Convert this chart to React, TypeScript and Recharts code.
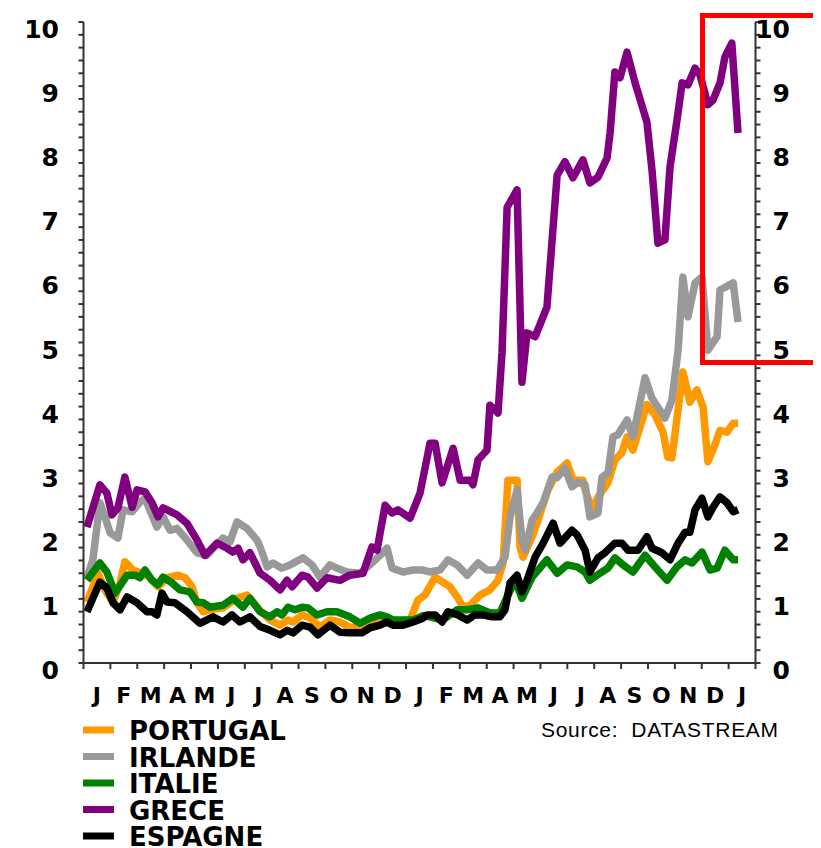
import React from "react";
import { LineChart, Line, XAxis, YAxis } from "recharts";

// months shown under the axis (Jan year 1 .. Jan year 3)
const MONTHS = ["J", "F", "M", "A", "M", "J", "J", "A", "S", "O", "N", "D", "J", "F", "M", "A", "M", "J", "J", "A", "S", "O", "N", "D", "J"];
const MONTH_TICKS = Array.from({ length: 26 }, (_, i) => i);
const Y_TICKS = Array.from({ length: 51 }, (_, i) => i / 5);

// [month position, spread in %]
const PORTUGAL: [number, number][] = [
  [0.13, 0.95], [0.54, 1.4], [0.8, 1.14], [1.1, 0.94], [1.36, 1.25], [1.54, 1.58], [1.84, 1.45], [2.18, 1.4],
  [2.47, 1.33], [2.77, 1.19], [3.11, 1.33], [3.52, 1.37], [3.78, 1.33], [4.04, 1.19], [4.22, 0.94], [4.45, 0.8],
  [4.71, 0.83], [5.19, 0.86], [5.71, 1.01], [6.08, 1.06], [6.57, 0.82], [6.94, 0.67], [7.31, 0.59], [7.61, 0.67],
  [7.8, 0.64], [8.13, 0.75], [8.43, 0.7], [8.8, 0.56], [9.17, 0.67], [9.54, 0.64], [9.91, 0.56], [10.36, 0.55],
  [10.66, 0.62], [11.1, 0.67], [11.4, 0.64], [11.77, 0.64], [12.15, 0.67], [12.44, 0.98], [12.7, 1.06], [13.08, 1.34],
  [13.26, 1.29], [13.63, 1.19], [13.9, 1.03], [14.12, 0.87], [14.38, 0.9], [14.75, 1.06], [15.12, 1.14], [15.42, 1.29],
  [15.61, 1.56], [15.79, 2.85], [16.13, 2.85], [16.24, 1.81], [16.35, 1.65], [16.69, 1.97], [16.91, 2.23], [17.28, 2.7],
  [17.62, 2.98], [17.99, 3.12], [18.21, 2.85], [18.58, 2.85], [18.66, 2.7], [18.92, 2.39], [19.14, 2.59], [19.51, 2.81],
  [19.77, 3.17], [20.03, 3.28], [20.22, 3.53], [20.44, 3.32], [20.96, 4.03], [21.26, 3.87], [21.56, 3.6], [21.74, 3.21],
  [21.89, 3.2], [22.3, 4.54], [22.56, 4.07], [22.82, 4.26], [23.05, 3.99], [23.23, 3.14], [23.49, 3.4], [23.68, 3.63],
  [23.94, 3.6], [24.17, 3.74], [24.35, 3.74],
];

const IRLANDE: [number, number][] = [
  [0.13, 1.34], [0.35, 1.61], [0.61, 2.5], [0.8, 2.28], [0.99, 2.03], [1.28, 1.95], [1.47, 2.39], [1.81, 2.36],
  [2.1, 2.51], [2.29, 2.57], [2.73, 2.12], [2.96, 2.28], [3.22, 2.07], [3.48, 2.1], [3.85, 1.92], [4.22, 1.72],
  [4.59, 1.68], [5.19, 1.95], [5.45, 1.89], [5.71, 2.2], [6.08, 2.1], [6.45, 1.92], [6.57, 1.81], [6.83, 1.5],
  [7.05, 1.56], [7.38, 1.48], [7.68, 1.53], [8.17, 1.64], [8.5, 1.53], [8.8, 1.34], [9.17, 1.53], [9.43, 1.48],
  [9.8, 1.42], [10.29, 1.4], [10.73, 1.56], [11.03, 1.68], [11.29, 1.79], [11.48, 1.48], [11.89, 1.42], [12.26, 1.45],
  [12.63, 1.45], [12.89, 1.42], [13.26, 1.45], [13.56, 1.61], [13.9, 1.53], [14.27, 1.37], [14.68, 1.56], [15.01, 1.45],
  [15.39, 1.45], [15.68, 1.65], [15.87, 2.28], [16.13, 2.7], [16.31, 1.92], [16.43, 1.76], [16.69, 2.23], [16.87, 2.34],
  [17.1, 2.5], [17.43, 2.9], [17.62, 2.89], [17.91, 3.04], [18.17, 2.75], [18.4, 2.82], [18.66, 2.78], [18.84, 2.28],
  [19.14, 2.34], [19.29, 2.9], [19.51, 2.96], [19.7, 3.53], [19.88, 3.56], [20.22, 3.79], [20.44, 3.53], [20.89, 4.45],
  [21.15, 4.13], [21.37, 3.99], [21.63, 3.82], [21.89, 4.1], [22.12, 4.88], [22.3, 6.02], [22.49, 5.4], [22.75, 5.93],
  [23.01, 6.02], [23.23, 4.88], [23.57, 5.09], [23.68, 5.82], [24.17, 5.93], [24.35, 5.32],
];

const ITALIE: [number, number][] = [
  [0.13, 1.29], [0.61, 1.56], [0.87, 1.42], [1.17, 1.09], [1.43, 1.25], [1.62, 1.37], [1.92, 1.37], [2.1, 1.33],
  [2.29, 1.45], [2.55, 1.29], [2.77, 1.22], [2.96, 1.34], [3.29, 1.25], [3.59, 1.14], [3.96, 1.11], [4.22, 0.95],
  [4.45, 0.94], [4.71, 0.87], [5.19, 0.9], [5.56, 1.01], [5.93, 0.87], [6.19, 1.01], [6.57, 0.8], [6.94, 0.72],
  [7.2, 0.8], [7.38, 0.75], [7.61, 0.87], [7.87, 0.83], [8.13, 0.87], [8.35, 0.86], [8.69, 0.75], [9.06, 0.8],
  [9.43, 0.8], [9.91, 0.72], [10.29, 0.62], [10.66, 0.7], [11.03, 0.75], [11.29, 0.72], [11.51, 0.67], [11.89, 0.67],
  [12.26, 0.67], [12.63, 0.74], [12.89, 0.72], [13.37, 0.67], [13.9, 0.83], [14.27, 0.83], [14.68, 0.86], [15.12, 0.78],
  [15.49, 0.78], [15.76, 1.03], [16.06, 1.29], [16.31, 1.01], [16.69, 1.34], [17.24, 1.61], [17.62, 1.4], [17.99, 1.53],
  [18.36, 1.5], [18.66, 1.42], [18.84, 1.29], [19.21, 1.4], [19.51, 1.48], [19.77, 1.64], [20.07, 1.53], [20.44, 1.42],
  [20.89, 1.68], [21.26, 1.5], [21.71, 1.29], [22.08, 1.5], [22.38, 1.61], [22.64, 1.56], [23.01, 1.73], [23.31, 1.45],
  [23.57, 1.48], [23.86, 1.76], [24.17, 1.61], [24.35, 1.61],
];

const GRECE: [number, number][] = [
  [0.13, 2.12], [0.61, 2.78], [0.87, 2.65], [1.06, 2.31], [1.28, 2.42], [1.54, 2.9], [1.81, 2.43], [1.99, 2.7],
  [2.29, 2.67], [2.55, 2.5], [2.77, 2.28], [2.96, 2.42], [3.48, 2.31], [3.85, 2.18], [4.22, 1.92], [4.52, 1.68],
  [4.97, 1.87], [5.34, 1.79], [5.56, 1.73], [5.75, 1.79], [5.93, 1.61], [6.19, 1.72], [6.57, 1.4], [6.94, 1.29],
  [7.31, 1.14], [7.57, 1.29], [7.76, 1.19], [8.13, 1.37], [8.35, 1.34], [8.69, 1.17], [9.06, 1.33], [9.54, 1.29],
  [9.91, 1.37], [10.4, 1.4], [10.73, 1.81], [10.92, 1.76], [11.22, 2.46], [11.48, 2.34], [11.7, 2.39], [12.15, 2.26],
  [12.52, 2.65], [12.89, 3.43], [13.08, 3.43], [13.34, 2.81], [13.75, 3.35], [14.01, 2.85], [14.38, 2.85], [14.49, 2.78],
  [14.68, 3.17], [15.01, 3.32], [15.12, 4.02], [15.42, 3.9], [15.57, 4.84], [15.76, 7.11], [16.13, 7.38], [16.31, 4.38],
  [16.5, 5.15], [16.8, 5.09], [17.24, 5.55], [17.62, 7.61], [17.91, 7.82], [18.21, 7.57], [18.58, 7.85], [18.84, 7.49],
  [19.14, 7.58], [19.48, 7.88], [19.59, 8.27], [19.77, 9.22], [19.96, 9.13], [20.22, 9.53], [20.52, 9.05], [20.96, 8.44],
  [21.15, 7.69], [21.37, 6.55], [21.63, 6.6], [21.82, 7.74], [22.08, 8.47], [22.27, 9.05], [22.49, 9.02], [22.75, 9.28],
  [22.94, 9.17], [23.23, 8.71], [23.42, 8.78], [23.68, 9.05], [23.86, 9.45], [24.12, 9.67], [24.35, 8.27],
];

const ESPAGNE: [number, number][] = [
  [0.13, 0.8], [0.43, 1.09], [0.61, 1.26], [0.87, 1.17], [1.1, 0.94], [1.36, 0.83], [1.62, 1.03], [1.99, 0.94],
  [2.36, 0.8], [2.55, 0.8], [2.73, 0.75], [2.92, 1.09], [3.11, 0.95], [3.4, 0.94], [3.85, 0.8], [4.33, 0.62],
  [4.82, 0.72], [5.19, 0.64], [5.52, 0.75], [5.82, 0.64], [6.19, 0.72], [6.57, 0.57], [6.94, 0.51], [7.31, 0.44],
  [7.57, 0.51], [7.8, 0.47], [8.13, 0.59], [8.43, 0.56], [8.72, 0.44], [9.17, 0.59], [9.54, 0.48], [9.91, 0.47],
  [10.36, 0.47], [10.66, 0.55], [11.03, 0.59], [11.29, 0.64], [11.51, 0.59], [11.89, 0.59], [12.26, 0.64], [12.63, 0.7],
  [12.78, 0.75], [13.08, 0.75], [13.34, 0.64], [13.56, 0.8], [13.93, 0.75], [14.27, 0.67], [14.56, 0.75], [14.86, 0.75],
  [15.19, 0.72], [15.49, 0.72], [15.68, 0.83], [15.87, 1.25], [16.13, 1.37], [16.31, 1.11], [16.5, 1.29], [16.8, 1.65],
  [17.1, 1.87], [17.47, 2.18], [17.73, 1.87], [18.17, 2.07], [18.36, 2.0], [18.66, 1.76], [18.84, 1.42], [19.14, 1.64],
  [19.4, 1.72], [19.77, 1.87], [20.03, 1.87], [20.26, 1.76], [20.63, 1.76], [20.96, 1.97], [21.15, 1.79], [21.52, 1.72],
  [21.82, 1.61], [22.12, 1.87], [22.38, 2.04], [22.56, 2.04], [22.75, 2.39], [23.01, 2.57], [23.23, 2.28], [23.42, 2.43],
  [23.68, 2.59], [23.94, 2.5], [24.17, 2.36], [24.35, 2.39],
];

const SERIES = [
  { name: "PORTUGAL", color: "#ff9900", points: PORTUGAL },
  { name: "IRLANDE", color: "#999999", points: IRLANDE },
  { name: "ITALIE", color: "#008000", points: ITALIE },
  { name: "GRECE", color: "#800080", points: GRECE },
  { name: "ESPAGNE", color: "#000000", points: ESPAGNE },
];

const toRows = (pts: [number, number][]) => pts.map(([t, v]) => ({ t, v }));

const BOLD = "'DejaVu Sans', Verdana, sans-serif";
const axisStroke = { stroke: "#333", strokeWidth: 2 };
const HALF_MONTH = 672 / 25 / 2;

const MonthTick = (props: any) => {
  const { x, y, payload } = props;
  if (payload.value >= MONTHS.length) return <g />;
  return (
    <text x={x + HALF_MONTH} y={y + 32} textAnchor="middle" fill="#000"
      style={{ fontFamily: BOLD, fontWeight: "bold", fontSize: 22 }}>
      {MONTHS[payload.value]}
    </text>
  );
};

const ValueTick = (props: any) => {
  const { x, y, payload } = props;
  if (!Number.isInteger(payload.value)) return <g />;
  return (
    <text x={x} y={y + 16} textAnchor="end" fill="#000"
      style={{ fontFamily: BOLD, fontWeight: "bold", fontSize: 25 }}>
      {payload.value}
    </text>
  );
};

export default function App() {
  return (
    <div style={{ position: "relative", width: 813, height: 840, overflow: "hidden", background: "#fff" }}>
      <LineChart width={813} height={832} margin={{ top: 14, right: 5.5, left: 5.5, bottom: 147 }}>
        <XAxis dataKey="t" type="number" domain={[0, 25]} ticks={MONTH_TICKS} interval={0}
          tick={<MonthTick />} tickSize={6} axisLine={axisStroke} tickLine={axisStroke} height={30} />
        <YAxis yAxisId="left" domain={[0, 10]} ticks={Y_TICKS} interval={0} width={70}
          tick={<ValueTick />} tickSize={5} tickMargin={19.5} axisLine={axisStroke} tickLine={axisStroke} />
        <YAxis yAxisId="right" orientation="right" domain={[0, 10]} ticks={Y_TICKS} interval={0} width={60}
          tick={<ValueTick />} tickSize={5} tickMargin={29.5} axisLine={axisStroke} tickLine={axisStroke} />
        {SERIES.map((s) => (
          <Line key={s.name} yAxisId="left" data={toRows(s.points)} dataKey="v" name={s.name}
            type="linear" stroke={s.color} strokeWidth={7.5} strokeLinejoin="round"
            dot={false} activeDot={false} isAnimationActive={false} />
        ))}
        {/* same Greek series tied to the right scale so that axis gets its ticks; not drawn */}
        <Line yAxisId="right" data={toRows(GRECE)} dataKey="v" stroke="none" strokeWidth={0}
          dot={false} activeDot={false} legendType="none" isAnimationActive={false} />
      </LineChart>

      <div style={{ position: "absolute", left: 692, top: 5, width: 131, height: 352,
        border: "5px solid #ff0000", boxSizing: "border-box" }} />

      <svg width={813} height={140} style={{ position: "absolute", left: 0, top: 700 }}>
        {SERIES.map((s, i) => (
          <g key={s.name}>
            <rect x={75} y={18.5 + i * 26.5} width={31} height={7} fill={s.color} />
            <text x={121} y={32 + i * 26.5} fill="#000"
              style={{ fontFamily: BOLD, fontWeight: "bold", fontSize: 26 }}>
              {s.name}
            </text>
          </g>
        ))}
        <text x={533} y={29} fill="#000"
          style={{ fontFamily: "'Liberation Sans', Arial, sans-serif", fontSize: 21, letterSpacing: 0.7, whiteSpace: "pre" }}>
          {"Source:  DATASTREAM"}
        </text>
      </svg>
    </div>
  );
}
